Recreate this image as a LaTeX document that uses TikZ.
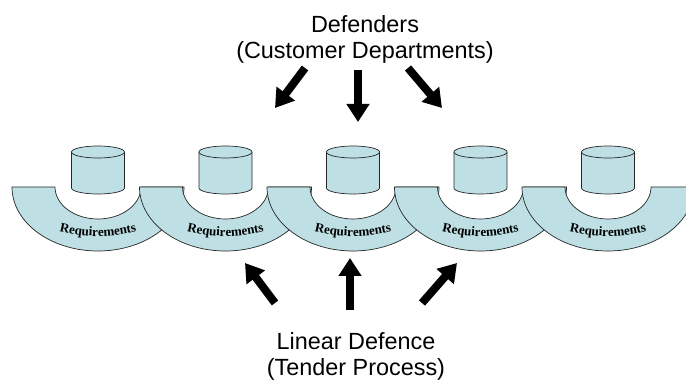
\documentclass[tikz,border=0pt]{standalone}
\usepackage{fontspec}
\setmainfont{Liberation Sans}
\newfontfamily\reqfont{Liberation Serif}
\usetikzlibrary{arrows.meta,decorations.text}
\definecolor{ringfill}{RGB}{190,224,228}
\tikzset{
  ring/.style={fill=ringfill, draw=black!85, line width=0.7pt},
  drum/.style={fill=ringfill, draw=black!85, line width=0.7pt},
  bigarrow/.style={line width=8pt, -{Triangle[length=18pt,width=22pt]}},
  headtext/.style={align=center, inner sep=0pt, font=\fontsize{23.4}{26.5}\selectfont},
  reqtext/.style={decorate, decoration={text along path, text align=center,
    text={|\reqfont\bfseries\fontsize{13}{13}\selectfont|Requirements}}}
}
\begin{document}
\begin{tikzpicture}[x=1pt,y=1pt]
    \useasboundingbox (0,0) rectangle (686,383);

    % Unit 1
    \draw[ring] (12,196) arc[start angle=180,end angle=360,x radius=86pt,y radius=64pt] -- (141,196) arc[start angle=0,end angle=-180,x radius=43pt,y radius=32pt] -- cycle;
    \path[reqtext] (54,153) to[bend right=14] (142,153);
    \draw[drum] (71.5,231) -- (71.5,195) arc[start angle=180,end angle=360,x radius=26.5pt,y radius=6pt] -- (124.5,231);
    \draw[drum] (98,231) ellipse[x radius=26.5pt,y radius=6pt];

    % Unit 2
    \draw[ring] (139.5,196) arc[start angle=180,end angle=360,x radius=86pt,y radius=64pt] -- (268.5,196) arc[start angle=0,end angle=-180,x radius=43pt,y radius=32pt] -- cycle;
    \path[reqtext] (181.5,153) to[bend right=14] (269.5,153);
    \draw[drum] (199,231) -- (199,195) arc[start angle=180,end angle=360,x radius=26.5pt,y radius=6pt] -- (252,231);
    \draw[drum] (225.5,231) ellipse[x radius=26.5pt,y radius=6pt];

    % Unit 3
    \draw[ring] (267,196) arc[start angle=180,end angle=360,x radius=86pt,y radius=64pt] -- (396,196) arc[start angle=0,end angle=-180,x radius=43pt,y radius=32pt] -- cycle;
    \path[reqtext] (309,153) to[bend right=14] (397,153);
    \draw[drum] (326.5,231) -- (326.5,195) arc[start angle=180,end angle=360,x radius=26.5pt,y radius=6pt] -- (379.5,231);
    \draw[drum] (353,231) ellipse[x radius=26.5pt,y radius=6pt];

    % Unit 4
    \draw[ring] (394.5,196) arc[start angle=180,end angle=360,x radius=86pt,y radius=64pt] -- (523.5,196) arc[start angle=0,end angle=-180,x radius=43pt,y radius=32pt] -- cycle;
    \path[reqtext] (436.5,153) to[bend right=14] (524.5,153);
    \draw[drum] (454,231) -- (454,195) arc[start angle=180,end angle=360,x radius=26.5pt,y radius=6pt] -- (507,231);
    \draw[drum] (480.5,231) ellipse[x radius=26.5pt,y radius=6pt];

    % Unit 5
    \draw[ring] (522,196) arc[start angle=180,end angle=360,x radius=86pt,y radius=64pt] -- (651,196) arc[start angle=0,end angle=-180,x radius=43pt,y radius=32pt] -- cycle;
    \path[reqtext] (564,153) to[bend right=14] (652,153);
    \draw[drum] (581.5,231) -- (581.5,195) arc[start angle=180,end angle=360,x radius=26.5pt,y radius=6pt] -- (634.5,231);
    \draw[drum] (608,231) ellipse[x radius=26.5pt,y radius=6pt];

    % Labels
    \node[headtext, anchor=north] (defenders) at (365,368) {Defenders\\(Customer Departments)};
    \node[headtext, anchor=north] (defence) at (356,51) {Linear Defence\\(Tender Process)};

    % Arrows down
    \coordinate (dl-from) at (305,315);
    \coordinate (dl-to) at (275,275);
    \coordinate (dm-from) at (358,313);
    \coordinate (dm-to) at (358,261);
    \coordinate (dr-from) at (408,315);
    \coordinate (dr-to) at (442,275);
    \draw[bigarrow] (dl-from) -- (dl-to);
    \draw[bigarrow] (dm-from) -- (dm-to);
    \draw[bigarrow] (dr-from) -- (dr-to);

    % Arrows up
    \coordinate (ul-from) at (275,80);
    \coordinate (ul-to) at (245,120);
    \coordinate (um-from) at (350,73);
    \coordinate (um-to) at (350,125);
    \coordinate (ur-from) at (422,80);
    \coordinate (ur-to) at (457,120);
    \draw[bigarrow] (ul-from) -- (ul-to);
    \draw[bigarrow] (um-from) -- (um-to);
    \draw[bigarrow] (ur-from) -- (ur-to);
\end{tikzpicture}
\end{document}
